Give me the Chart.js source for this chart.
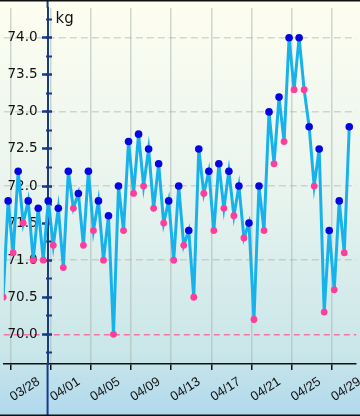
<!DOCTYPE html>
<html><head><meta charset="utf-8">
<script src="https://cdn.jsdelivr.net/npm/chart.js@4"></script>
<style>html,body{margin:0;padding:0;background:#fff;} canvas{display:block;}</style>
</head><body>
<canvas id="c" width="360" height="416"></canvas>
<script>
const dates = ['03/27','03/28','03/29','03/30','03/31','04/01','04/02','04/03','04/04','04/05',
  '04/06','04/07','04/08','04/09','04/10','04/11','04/12','04/13','04/14','04/15',
  '04/16','04/17','04/18','04/19','04/20','04/21','04/22','04/23','04/24','04/25',
  '04/26','04/27','04/28','04/29','04/30'];
const morning = [70.5,71.1,71.5,71.0,71.0, 71.2,70.9,71.7,71.2,71.4,
  71.0,70.0,71.4,71.9,72.0, 71.7,71.5,71.0,71.2,70.5,
  71.9,71.4,71.7,71.6,71.3, 70.2,71.4,72.3,72.6,73.3,
  73.3,72.0,70.3,70.6,71.1];
const evening = [71.8,72.2,71.8,71.7,71.8, 71.7,72.2,71.9,72.2,71.8,
  71.6,72.0,72.6,72.7,72.5, 72.3,71.8,72.0,71.4,72.5,
  72.2,72.3,72.2,72.0,71.5, 72.0,73.0,73.2,74.0,74.0,
  72.8,72.5,71.4,71.8,72.8];
const xTickLabels = ['03/28','04/01','04/05','04/09','04/13','04/17','04/21','04/25','04/29'];
const yTicks = [70.0,70.5,71.0,71.5,72.0,72.5,73.0,73.5,74.0];
const yMinorTicks = [69.75,70.0,70.25,70.5,70.75,71.0,71.25,71.5,71.75,72.0,72.25,72.5,72.75,73.0,73.25,73.5,73.75,74.0,74.25];
const gridValues = [70,71,72,73,74];
const targetWeight = 70.0;
const unit = 'kg';

const points = [];
dates.forEach((d, i) => {
  points.push({x: i + 0.25, y: morning[i]});
  points.push({x: i + 0.75, y: evening[i]});
});

const X_MIN = 0.317, X_MAX = 35.44, AXIS_X = 4.68, AXIS_X_R = 5.17, LABEL_X = 3.68;
const Y_MIN = 69.6, Y_MAX = 74.4;
const NAVY = '#163c86';

const deco = {
  id: 'deco',
  beforeDraw(chart) {
    const {ctx, width, height} = chart;
    const g = ctx.createLinearGradient(0, 0, 0, height);
    g.addColorStop(0, '#fefef0');
    g.addColorStop(0.45, '#e9f4ee');
    g.addColorStop(0.85, '#c9e6e9');
    g.addColorStop(1, '#b0d8ee');
    ctx.save(); ctx.fillStyle = g; ctx.fillRect(0, 0, width, height); ctx.restore();
  },
  afterDraw(chart) {
    const {ctx, width, height, chartArea} = chart;
    const px = chart.scales.x.getPixelForValue(AXIS_X);
    ctx.save();
    ctx.strokeStyle = NAVY; ctx.lineWidth = 2;
    ctx.beginPath();
    ctx.moveTo(px, 0); ctx.lineTo(px, chartArea.top);
    ctx.moveTo(px, chartArea.bottom); ctx.lineTo(px, height);
    ctx.stroke();
    ctx.fillStyle = '#111';
    ctx.fillRect(0, 0, width, 1.5);
    ctx.fillRect(0, height - 1.5, width, 1.5);
    ctx.font = '15px "DejaVu Sans"';
    ctx.textBaseline = 'alphabetic';
    ctx.fillText(unit, px + 8, 23);
    ctx.restore();
  }
};

new Chart(document.getElementById('c'), {
  type: 'line',
  data: {
    datasets: [{
      data: points,
      borderColor: '#18b2ea',
      borderWidth: 3,
      tension: 0,
      pointRadius: c => (c.dataIndex % 2 ? 3.8 : 3.4),
      pointBackgroundColor: c => (c.dataIndex % 2 ? '#0505e0' : '#ff3d9b'),
      pointBorderWidth: 0,
      pointHoverRadius: 0
    }]
  },
  options: {
    responsive: false,
    animation: false,
    events: [],
    layout: {padding: {top: 2, left: 0, right: 0, bottom: 0}},
    plugins: {legend: {display: false}, tooltip: {enabled: false}},
    scales: {
      x: {
        type: 'linear', position: 'bottom', min: X_MIN, max: X_MAX,
        afterBuildTicks: s => { s.ticks = xTickLabels.map(l => ({value: dates.indexOf(l)})); },
        afterFit: s => { s.paddingLeft = 0; s.paddingRight = 0; s.height = 52; },
        grid: {color: 'rgba(170,182,176,0.55)', lineWidth: 1.5, drawTicks: true, tickLength: 6, tickColor: '#111', tickWidth: 1.5},
        border: {color: '#111', width: 1.5},
        ticks: {autoSkip: false, minRotation: 33, maxRotation: 33, labelOffset: 28, padding: 4, color: '#111',
          font: {family: '"Liberation Sans", Arial', size: 13},
          callback: (v, i) => xTickLabels[i]}
      },
      y: {
        type: 'linear', position: {x: AXIS_X}, min: Y_MIN, max: Y_MAX,
        afterBuildTicks: s => { s.ticks = gridValues.map(v => ({value: v})); },
        ticks: {display: false},
        grid: {drawTicks: false, lineWidth: 1.5,
          color: c => (c.tick && c.tick.value === targetWeight ? 'rgba(255,100,160,0.9)' : 'rgba(165,170,165,0.45)')},
        border: {display: false, dash: c => (c.tick && c.tick.value === targetWeight ? [6, 4] : [7, 4])}
      },
      yl: {
        type: 'linear', position: {x: LABEL_X}, min: Y_MIN, max: Y_MAX, z: 2,
        afterBuildTicks: s => { s.ticks = yTicks.map(v => ({value: v})); },
        grid: {drawOnChartArea: false, drawTicks: false},
        border: {display: false},
        ticks: {color: '#111', font: {family: '"DejaVu Sans"', size: 13.5}, padding: 0, callback: v => v.toFixed(1)}
      },
      ya: {
        type: 'linear', position: {x: AXIS_X}, min: Y_MIN, max: Y_MAX, z: 2,
        afterBuildTicks: s => { s.ticks = yTicks.map(v => ({value: v})); },
        grid: {drawOnChartArea: false, drawTicks: true, tickLength: 5, tickColor: NAVY, tickWidth: 2.5},
        border: {color: NAVY, width: 2},
        ticks: {display: false}
      },
      yb: {
        type: 'linear', position: {x: AXIS_X_R}, min: Y_MIN, max: Y_MAX, z: 2,
        afterBuildTicks: s => { s.ticks = yMinorTicks.map(v => ({value: v})); },
        grid: {drawOnChartArea: false, drawTicks: true, tickLength: 6, tickColor: NAVY,
          tickWidth: c => (c.tick && yTicks.includes(c.tick.value) ? 2.5 : 2)},
        border: {display: false},
        ticks: {display: false}
      }
    }
  },
  plugins: [deco]
});
</script>
</body></html>
